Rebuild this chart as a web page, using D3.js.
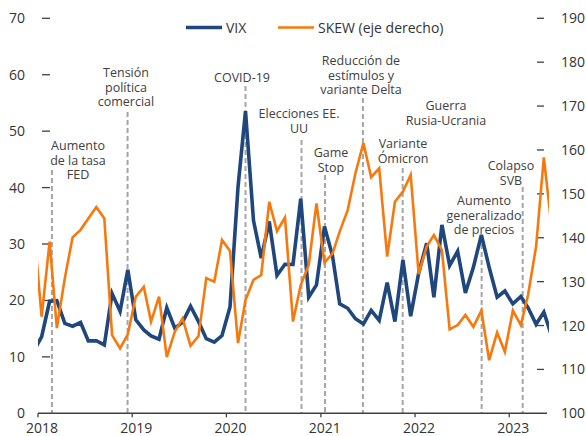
<!DOCTYPE html>
<html>
<head>
<meta charset="utf-8">
<script src="https://cdn.jsdelivr.net/npm/d3@7"></script>
<style>
  body { margin: 0; background: #fff; }
  text { font-family: "Open Sans", "DejaVu Sans", sans-serif; }
</style>
</head>
<body>
<div id="chart"></div>
<script>
// cierres mensuales, dic-2017 a jun-2023
const primerMes = new Date(2017, 11, 15);
const vix = [11.04,
  13.54, 19.85, 19.97, 15.93, 15.43, 16.09, 12.83, 12.86, 12.12, 21.23, 18.07, 25.42,
  16.57, 14.78, 13.71, 13.12, 18.71, 15.08, 16.12, 18.98, 16.24, 13.22, 12.62, 13.78,
  18.84, 40.11, 53.54, 34.15, 27.51, 34.0, 24.46, 26.41, 26.37, 38.02, 20.57, 22.75,
  33.09, 27.95, 19.40, 18.61, 16.76, 15.83, 18.24, 16.48, 23.14, 16.26, 27.19, 17.22,
  24.83, 30.15, 20.56, 33.40, 26.19, 28.71, 21.33, 25.87, 31.62, 25.88, 20.58, 21.67,
  19.40, 20.70, 18.70, 15.78, 17.94, 13.59];
const skew = [143,
  122, 139.1, 119.4, 130.8, 140.1, 141.8, 144.4, 147, 144.4, 117.8, 114.8, 118,
  126.6, 128.8, 120.9, 126.6, 112.8, 118.6, 121.6, 115.4, 117.6, 130.8, 130, 139.5,
  137, 116, 125.8, 130.4, 131.5, 148.2, 141.5, 144.6, 120.9, 129.2, 133.8, 147.8,
  134.3, 136.4, 141.4, 146.3, 154.7, 161.6, 153.8, 155.8, 135.7, 148.2, 150.5, 154.3,
  131.7, 138, 140.6, 137.2, 119.1, 120.1, 122.4, 119.7, 123.4, 112.1, 118.4, 114,
  123.4, 120.1, 127, 138, 158.3, 142];
const ticksIzq = [0, 10, 20, 30, 40, 50, 60, 70];
const ticksDer = [100, 110, 120, 130, 140, 150, 160, 170, 180, 190];
const anios = [2018, 2019, 2020, 2021, 2022, 2023];

const eventos = [
  {fecha: "2018-02-24", texto: ["Aumento", "de la tasa", "FED"]},
  {fecha: "2018-12-14", texto: ["Tensión", "política", "comercial"]},
  {fecha: "2020-03-15", texto: ["COVID-19"]},
  {fecha: "2020-10-18", texto: ["Elecciones EE.", "UU"]},
  {fecha: "2021-01-17", texto: ["Game", "Stop"]},
  {fecha: "2021-06-13", texto: ["Reducción de", "estímulos y", "variante Delta"]},
  {fecha: "2021-11-14", texto: ["Variante", "Ómicron"]},
  {fecha: null, texto: ["Guerra", "Rusia-Ucrania"]},
  {fecha: "2022-09-16", texto: ["Aumento", "generalizado", "de precios"]},
  {fecha: "2023-02-22", texto: ["Colapso", "SVB"]}
];
// posición de cada rótulo (centro x, línea base y del primer renglón, inicio de la línea punteada)
const rotulos = [
  [78, 150, 170], [126, 77, 112], [242, 82, 86], [299, 118, 140], [331, 157, 175],
  [361, 65, 98], [403, 148, 168], [446, 110, null], [484, 205, 236], [511, 170, 187]
];

const width = 586, height = 436;
const izq = 38, der = 549, arriba = 18.3, abajo = 413.3;

const svg = d3.select("#chart").append("svg")
  .attr("width", width)
  .attr("height", height);

const fechas = vix.map((d, i) => d3.timeMonth.offset(primerMes, i));

const x = d3.scaleTime()
  .domain([new Date(2018, 0, 1), new Date(2023, 5, 4)])
  .range([izq, der]);
const yIzq = d3.scaleLinear().domain([0, 70]).range([abajo, arriba]);
const yDer = d3.scaleLinear().domain([100, 190]).range([abajo, arriba]);

svg.append("clipPath").attr("id", "recorte")
  .append("rect")
  .attr("x", izq).attr("y", 0)
  .attr("width", der - izq).attr("height", height);

// líneas punteadas de eventos
eventos.forEach((e, i) => {
  const [cx, cy, top] = rotulos[i];
  if (e.fecha) {
    const xe = x(new Date(e.fecha));
    svg.append("line")
      .attr("x1", xe).attr("x2", xe)
      .attr("y1", top).attr("y2", abajo)
      .attr("stroke", "#a6a6a6")
      .attr("stroke-width", 2)
      .attr("stroke-dasharray", "5,3");
  }
  const t = svg.append("text")
    .attr("text-anchor", "middle")
    .attr("font-size", 12.5)
    .attr("fill", "#404040");
  e.texto.forEach((s, k) => {
    t.append("tspan").attr("x", cx).attr("y", cy + k * 14.5).text(s);
  });
});

// eje x
svg.append("line")
  .attr("x1", izq).attr("x2", 547)
  .attr("y1", abajo).attr("y2", abajo)
  .attr("stroke", "#404040").attr("stroke-width", 1.5);

anios.forEach(a => {
  const xa = x(new Date(a, 0, 1));
  svg.append("line")
    .attr("x1", xa).attr("x2", xa)
    .attr("y1", abajo).attr("y2", abajo + 4)
    .attr("stroke", "#404040").attr("stroke-width", 1.3);
  svg.append("text")
    .attr("x", xa + 4).attr("y", 433)
    .attr("text-anchor", "middle")
    .attr("font-size", 14)
    .attr("fill", "#333")
    .text(a);
});

// ejes y
ticksIzq.forEach(v => {
  if (v > 0) {
    svg.append("line")
      .attr("x1", 42).attr("x2", 50)
      .attr("y1", yIzq(v)).attr("y2", yIzq(v))
      .attr("stroke", "#404040").attr("stroke-width", 1.3);
  }
  svg.append("text")
    .attr("x", 25).attr("y", yIzq(v) + 5)
    .attr("text-anchor", "end")
    .attr("font-size", 14)
    .attr("fill", "#333")
    .text(v);
});

ticksDer.forEach(v => {
  if (v > 100) {
    svg.append("line")
      .attr("x1", 537).attr("x2", 544)
      .attr("y1", yDer(v)).attr("y2", yDer(v))
      .attr("stroke", "#404040").attr("stroke-width", 1.3);
  }
  svg.append("text")
    .attr("x", 561).attr("y", yDer(v) + 5)
    .attr("font-size", 14)
    .attr("fill", "#333")
    .text(v);
});

// series
const lineaVix = d3.line()
  .x((d, i) => x(fechas[i]))
  .y(d => yIzq(d));
const lineaSkew = d3.line()
  .x((d, i) => x(fechas[i]))
  .y(d => yDer(d));

const g = svg.append("g").attr("clip-path", "url(#recorte)");
g.append("path")
  .datum(vix)
  .attr("d", lineaVix)
  .attr("fill", "none")
  .attr("stroke", "#1f477d")
  .attr("stroke-width", 3.6)
  .attr("stroke-linejoin", "miter");
g.append("path")
  .datum(skew)
  .attr("d", lineaSkew)
  .attr("fill", "none")
  .attr("stroke", "#f7790d")
  .attr("stroke-width", 2.6)
  .attr("stroke-linejoin", "miter");

// leyenda
const leyenda = [
  {nombre: "VIX", color: "#1f477d", w: 3.6, x0: 186},
  {nombre: "SKEW (eje derecho)", color: "#f7790d", w: 2.6, x0: 278}
];
leyenda.forEach(l => {
  svg.append("line")
    .attr("x1", l.x0).attr("x2", l.x0 + 36)
    .attr("y1", 27.5).attr("y2", 27.5)
    .attr("stroke", l.color).attr("stroke-width", l.w);
  svg.append("text")
    .attr("x", l.x0 + 40).attr("y", 32.5)
    .attr("font-size", 14)
    .attr("fill", "#333")
    .text(l.nombre);
});
</script>
</body>
</html>
